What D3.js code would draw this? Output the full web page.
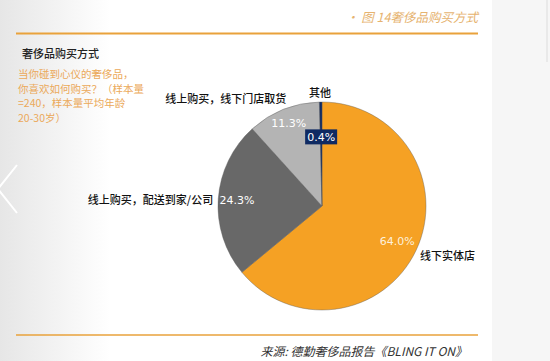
<!DOCTYPE html>
<html>
<head>
<meta charset="utf-8">
<style>
  body { margin: 0; background: #fff; }
  svg { display: block; font-family: 'Noto Sans CJK SC', 'Noto Sans', sans-serif; }
</style>
</head>
<body>
<script src="https://cdn.jsdelivr.net/npm/d3@7"></script>
<script>

var categories = ['线下实体店', '线上购买，配送到家/公司', '线上购买，线下门店取货', '其他'];
var shares = [64.0, 24.3, 11.3, 0.4];
var pctLabels = ['64.0%', '24.3%', '11.3%', '0.4%'];
var colors = ['#f5a124', '#686868', '#b4b4b4', '#0f2a62'];
var subtitle = ['当你碰到心仪的奢侈品，', '你喜欢如何购买？（样本量', '=240，样本量平均年龄', '20-30岁）'];

var width = 550, height = 361;
var cx = 322, cy = 206, r = 104;

var svg = d3.select('body').append('svg')
  .attr('width', width)
  .attr('height', height);

// page background: grey fade on the left, grey panel to the right
var defs = svg.append('defs');
var lg = defs.append('linearGradient').attr('id', 'leftfade');
lg.append('stop').attr('offset', '0%').attr('stop-color', '#e6e6e6');
lg.append('stop').attr('offset', '100%').attr('stop-color', '#ffffff');
svg.append('rect').attr('width', 110).attr('height', height).attr('fill', 'url(#leftfade)');
svg.append('rect').attr('x', 492).attr('width', 58).attr('height', height).attr('fill', '#f6f6f6');
svg.append('line').attr('x1', 547).attr('x2', 547).attr('y1', 0).attr('y2', 62)
  .attr('stroke', '#dcdcdc');

// carousel arrow
svg.append('path')
  .attr('d', 'M17,165 L-2,189 L17,213')
  .attr('fill', 'none').attr('stroke', '#fff').attr('stroke-width', 2);

// header
svg.append('text')
  .attr('x', 478).attr('y', 22)
  .attr('text-anchor', 'end')
  .attr('font-size', 12.5).attr('font-style', 'italic')
  .attr('fill', '#e6b36f')
  .text('· 图 14奢侈品购买方式');
svg.append('line').attr('x1', 16).attr('x2', 478).attr('y1', 33.5).attr('y2', 33.5)
  .attr('stroke', '#e9a23b').attr('stroke-width', 2);

svg.append('text')
  .attr('x', 22).attr('y', 58)
  .attr('font-size', 11).attr('font-weight', 500).attr('fill', '#222')
  .text('奢侈品购买方式');

svg.selectAll('text.sub')
  .data(subtitle)
  .enter().append('text')
  .attr('class', 'sub')
  .attr('x', 18)
  .attr('y', function (d, i) { return 78 + i * 14.5; })
  .attr('font-size', 10.5).attr('fill', '#eba95a')
  .text(function (d) { return d; });

// pie
var data = categories.map(function (c, i) {
  return { name: c, value: shares[i], pct: pctLabels[i], color: colors[i] };
});
var pie = d3.pie().sort(null).value(function (d) { return d.value; });
var arcs = pie(data);
var arc = d3.arc().innerRadius(0).outerRadius(r);

var g = svg.append('g').attr('transform', 'translate(' + cx + ',' + cy + ')');

g.selectAll('path')
  .data(arcs)
  .enter().append('path')
  .attr('d', arc)
  .attr('fill', function (d) { return d.data.color; })
  .attr('stroke', '#5a5a5a').attr('stroke-width', 0.4);

// label placement: radius and anchor per slice
function polar(a, rad) {
  return [Math.sin(a) * rad, -Math.cos(a) * rad];
}
function mid(d) { return (d.startAngle + d.endAngle) / 2; }

var pctR = [0.8, 0.82, 0.86, 0.66];
g.selectAll('g.pct')
  .data(arcs)
  .enter().append('g')
  .attr('class', 'pct')
  .attr('transform', function (d, i) {
    var p = polar(mid(d), r * pctR[i]);
    return 'translate(' + p[0] + ',' + p[1] + ')';
  })
  .each(function (d, i) {
    var sel = d3.select(this);
    if (i === 3) {
      sel.append('rect').attr('x', -16).attr('y', -8).attr('width', 32).attr('height', 15)
        .attr('fill', '#0f2a62');
    }
    sel.append('text')
      .attr('text-anchor', 'middle')
      .attr('dy', '0.35em')
      .attr('font-family', 'DejaVu Sans, Verdana, sans-serif')
      .attr('font-size', 11)
      .attr('fill', i === 0 ? '#fdf0dc' : '#fff')
      .text(d.data.pct);
  });

var catPos = [
  { a: 117, rad: 110, anchor: 'start' },
  { a: 273, rad: 109, anchor: 'end' },
  { a: 318, rad: 144, anchor: 'middle' },
  { a: 359, rad: 113, anchor: 'middle' }
];
g.selectAll('text.cat')
  .data(arcs)
  .enter().append('text')
  .attr('class', 'cat')
  .attr('x', function (d, i) { return polar(catPos[i].a * Math.PI / 180, catPos[i].rad)[0]; })
  .attr('y', function (d, i) { return polar(catPos[i].a * Math.PI / 180, catPos[i].rad)[1]; })
  .attr('dy', '0.35em')
  .attr('text-anchor', function (d, i) { return catPos[i].anchor; })
  .attr('font-size', 11).attr('font-weight', 500).attr('fill', '#111')
  .text(function (d) { return d.data.name; });

// footer
svg.append('line').attr('x1', 16).attr('x2', 478).attr('y1', 335).attr('y2', 335)
  .attr('stroke', '#e9a23b').attr('stroke-width', 1.5);
svg.append('text')
  .attr('x', 467).attr('y', 356)
  .attr('text-anchor', 'end')
  .attr('font-size', 12).attr('font-style', 'italic')
  .attr('fill', '#333')
  .text('来源: 德勤奢侈品报告《BLING IT ON》');

</script>
</body>
</html>
